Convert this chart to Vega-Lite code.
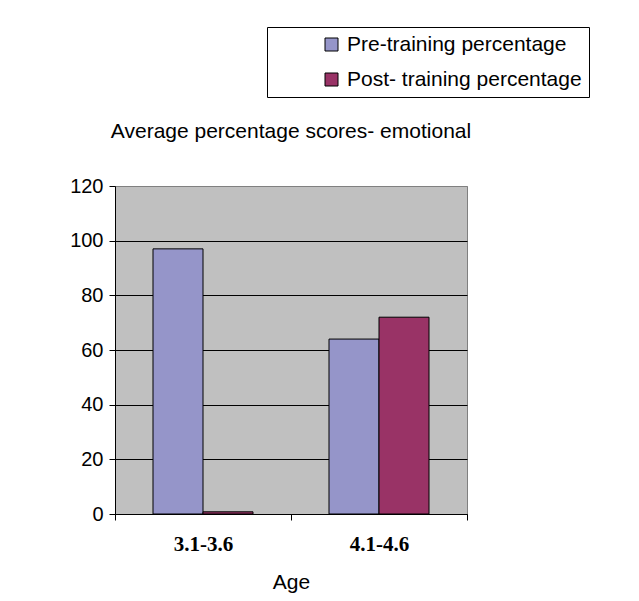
{
  "$schema": "https://vega.github.io/schema/vega-lite/v6.json",
  "width": 352,
  "height": 328,
  "autosize": {"type": "none"},
  "padding": {"left": 115, "top": 186, "right": 172, "bottom": 87},
  "background": "white",
  "title": {
    "text": "Average percentage scores- emotional",
    "font": "Liberation Sans",
    "fontSize": 21,
    "fontWeight": "normal",
    "color": "black",
    "anchor": "middle",
    "offset": 0,
    "dy": 115
  },
  "data": {
    "values": [
      {"age": "3.1-3.6", "series": "Pre-training percentage", "value": 97},
      {"age": "3.1-3.6", "series": "Post- training percentage", "value": 0.8},
      {"age": "4.1-4.6", "series": "Pre-training percentage", "value": 64},
      {"age": "4.1-4.6", "series": "Post- training percentage", "value": 72}
    ]
  },
  "mark": {"type": "bar", "stroke": "black", "strokeWidth": 1},
  "encoding": {
    "x": {
      "field": "age",
      "type": "nominal",
      "scale": {"paddingInner": 0, "paddingOuter": 0},
      "axis": {
        "title": "Age",
        "labelAngle": 0,
        "labelFont": "Liberation Serif",
        "labelFontWeight": "bold",
        "labelFontSize": 21,
        "labelColor": "black",
        "labelPadding": 13,
        "tickBand": "extent",
        "tickSize": 6,
        "tickColor": "black",
        "domainColor": "black",
        "titleFont": "Liberation Sans",
        "titleFontSize": 21,
        "titleFontWeight": "normal",
        "titleColor": "black",
        "titlePadding": 17
      }
    },
    "xOffset": {
      "field": "series",
      "type": "nominal",
      "sort": ["Pre-training percentage", "Post- training percentage"],
      "scale": {"paddingInner": 0, "paddingOuter": 0.76}
    },
    "y": {
      "field": "value",
      "type": "quantitative",
      "scale": {"domain": [0, 120], "nice": false},
      "axis": {
        "title": null,
        "values": [0, 20, 40, 60, 80, 100, 120],
        "labelFont": "Liberation Sans",
        "labelFontSize": 20,
        "labelColor": "black",
        "labelPadding": 6,
        "tickSize": 6,
        "tickColor": "black",
        "domainColor": "black",
        "grid": true,
        "gridColor": {"condition": {"test": "datum.value == 120", "value": "#808080"}, "value": "black"},
        "gridOpacity": 1
      }
    },
    "color": {
      "field": "series",
      "type": "nominal",
      "sort": ["Pre-training percentage", "Post- training percentage"],
      "scale": {"range": ["#9595C9", "#993366"]},
      "legend": {
        "title": null,
        "orient": "none",
        "legendX": 152,
        "legendY": -159,
        "strokeColor": "black",
        "fillColor": "white",
        "padding": 7,
        "symbolType": "square",
        "symbolSize": 169,
        "symbolStrokeColor": "black",
        "symbolStrokeWidth": 1,
        "symbolOffset": 47,
        "labelFont": "Liberation Sans",
        "labelFontSize": 21,
        "labelColor": "black",
        "labelLimit": 400,
        "rowPadding": 13,
        "labelOffset": 5
      }
    }
  },
  "config": {
    "view": {"fill": "#C0C0C0", "stroke": "#808080", "strokeWidth": 1}
  }
}
